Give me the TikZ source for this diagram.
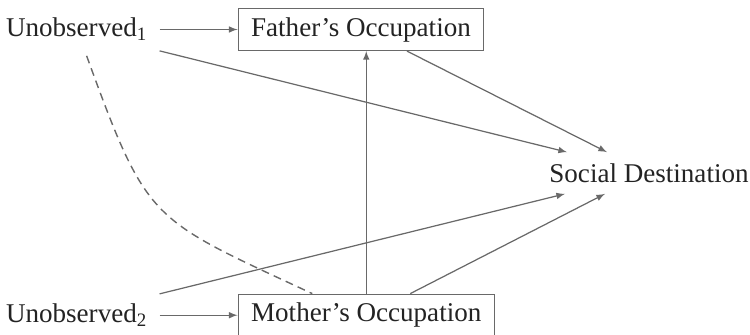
\documentclass[tikz,border=0pt]{standalone}
\usepackage{fontspec}
\setmainfont{Liberation Serif}
\usepackage{xcolor}
\usepackage{tikz}
\usetikzlibrary{arrows, positioning, calc}

\definecolor{linegray}{RGB}{105,105,105}
\definecolor{textgray}{RGB}{35,35,35}

\begin{document}
\begin{tikzpicture}[
    node distance=1.56cm,
    box/.style={draw=linegray, line width=0.7pt, rectangle, minimum height=0.84cm, inner xsep=0.26cm, inner ysep=0pt, text=textgray, font=\fontsize{15.4}{18}\selectfont},
    var/.style={rectangle, minimum height=0.84cm, inner xsep=0.24cm, inner ysep=0pt, text=textgray, font=\fontsize{15.4}{18}\selectfont},
    arrow/.style={draw=linegray, line width=0.7pt, ->, >=latex},
    latent/.style={draw=linegray, line width=0.8pt, dash pattern=on 4.5pt off 3pt}
]
\useasboundingbox (0,0) rectangle (15,-6.7);

\node[box] (father) at (7.22,-0.59) {Father's Occupation};
\node[box, below=4.85cm of father.south west, anchor=north west] (mother) {Mother's Occupation};
\node[var, left=of father] (u1) {Unobserved\textsubscript{1}};
\node[var, left=of mother] (u2) {Unobserved\textsubscript{2}};
\node[var, minimum height=0.82cm] (social) at (12.98,-3.46) {Social Destination};

\draw[arrow] (u1) -- (father);
\draw[arrow] (u2) -- (mother);
\draw[arrow] (mother.north) -- (mother.north |- father.south);
\draw[arrow] (u1.south east) -- ([xshift=-1.64cm]social.north);
\draw[arrow] ([xshift=0.92cm]father.south) -- ([xshift=-0.84cm]social.north);
\draw[arrow] (u2.north east) -- ([xshift=-1.68cm]social.south);
\draw[arrow] ([xshift=0.88cm]mother.north) -- ([xshift=-0.88cm]social.south);
% correlated unobserved parts
\draw[latent] ([xshift=0.2cm, yshift=-0.1cm]u1.south) to[out=-70, in=155, looseness=1.4] ([xshift=-1.08cm]mother.north);
\end{tikzpicture}
\end{document}
